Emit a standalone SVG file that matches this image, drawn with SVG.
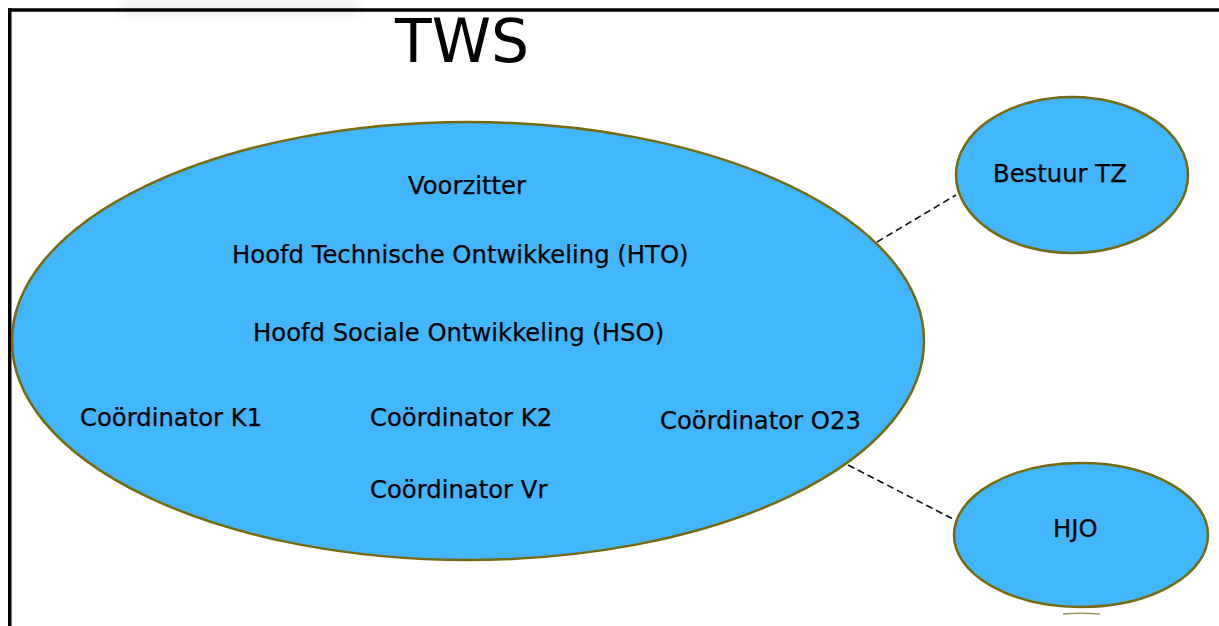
<svg xmlns="http://www.w3.org/2000/svg" width="1219" height="626" viewBox="0 0 1219 626">
<style>
.node{fill:#42b6fe;stroke:#76690e;stroke-width:2.5}
.lbl{font-family:"DejaVu Sans","Liberation Sans",sans-serif;font-size:24.3px;fill:#000;stroke:#000;stroke-width:0.25}
.title{font-family:"DejaVu Sans","Liberation Sans",sans-serif;font-size:60px;fill:#000}
.conn{stroke:#111;stroke-width:1.6;stroke-dasharray:7,4;fill:none}
</style>
<defs>
<filter id="blur" x="-20%" y="-100%" width="140%" height="300%">
<feGaussianBlur stdDeviation="4"/>
</filter>
</defs>
<rect width="1219" height="626" fill="#fff"/>
<rect x="120" y="0" width="240" height="16" fill="#000" opacity="0.06" filter="url(#blur)"/>
<g id="frame" stroke="#000" stroke-width="3.5" fill="none">
<line x1="8" y1="10" x2="1219" y2="10"/>
<line x1="9.75" y1="8.25" x2="9.75" y2="626"/>
</g>
<text class="title" x="395" y="62">TWS</text>
<g id="connectors">
<line class="conn" x1="877" y1="242" x2="956" y2="195"/>
<line class="conn" x1="848" y1="465" x2="955" y2="520"/>
</g>
<g id="tws">
<ellipse class="node" cx="468" cy="341" rx="456" ry="219"/>
<text class="lbl" x="408" y="194">Voorzitter</text>
<text class="lbl" x="232" y="263">Hoofd Technische Ontwikkeling (HTO)</text>
<text class="lbl" x="253" y="341">Hoofd Sociale Ontwikkeling (HSO)</text>
<text class="lbl" x="80" y="426">Coördinator K1</text>
<text class="lbl" x="370" y="426">Coördinator K2</text>
<text class="lbl" x="660" y="429">Coördinator O23</text>
<text class="lbl" x="370" y="498">Coördinator Vr</text>
</g>
<g id="bestuur">
<ellipse class="node" cx="1072" cy="175" rx="116" ry="78"/>
<text class="lbl" x="993" y="182">Bestuur TZ</text>
</g>
<g id="hjo">
<ellipse class="node" cx="1081" cy="535" rx="127" ry="72"/>
<text class="lbl" x="1053" y="537">HJO</text>
</g>
<path d="M1063,614 Q1081,612.5 1100,614" stroke="#76690e" stroke-width="1.5" fill="none" opacity="0.7"/>
</svg>
